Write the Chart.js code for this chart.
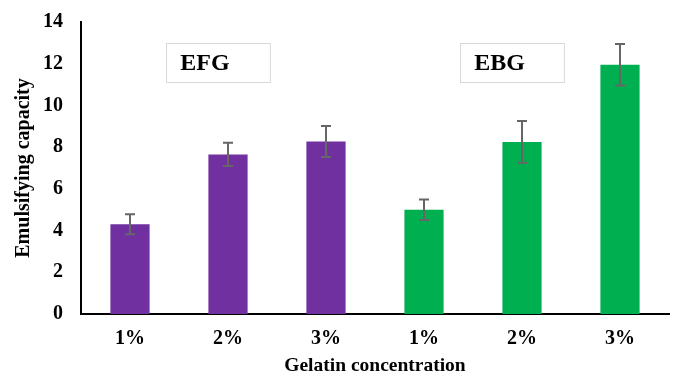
<!DOCTYPE html>
<html>
<head>
<meta charset="utf-8">
<script src="https://cdn.jsdelivr.net/npm/chart.js@4"></script>
<style>
  html, body { margin: 0; padding: 0; background: #fff; }
  #wrap { width: 676px; height: 374px; }
</style>
</head>
<body>
<div id="wrap"><canvas id="chart"></canvas></div>
<script>
const groups = ['EFG', 'EBG'];
const concentrations = ['1%', '2%', '3%'];
const efgValues = [4.3, 7.65, 8.27];
const efgErrors = [0.48, 0.56, 0.74];
const ebgValues = [5.0, 8.25, 11.95];
const ebgErrors = [0.49, 1.0, 0.99];
const yMax = 14;
const yStep = 2;

const groupColors = ['#7030A0', '#00B050'];
const serif = "'Liberation Serif', 'Times New Roman', serif";

const labels = concentrations.concat(concentrations);
const values = efgValues.concat(ebgValues);
const errors = efgErrors.concat(ebgErrors);
const colors = labels.map((_, i) => groupColors[Math.floor(i / concentrations.length)]);

// error bars drawn from the y scale
const errorBars = {
    id: 'errorBars',
    afterDatasetsDraw(chart) {
        const { ctx, scales: { x, y } } = chart;
        ctx.save();
        ctx.strokeStyle = '#666666';
        ctx.lineWidth = 2;
        values.forEach((v, i) => {
            const cx = x.getPixelForValue(i);
            const top = y.getPixelForValue(v + errors[i]);
            const bottom = y.getPixelForValue(v - errors[i]);
            ctx.beginPath();
            ctx.moveTo(cx, top);
            ctx.lineTo(cx, bottom);
            ctx.moveTo(cx - 5, top);
            ctx.lineTo(cx + 5, top);
            ctx.moveTo(cx - 5, bottom);
            ctx.lineTo(cx + 5, bottom);
            ctx.stroke();
        });
        ctx.restore();
    }
};

// group name boxes
const groupBoxes = {
    id: 'groupBoxes',
    afterDraw(chart) {
        const { ctx, scales: { x, y } } = chart;
        const step = x.width / labels.length;
        const top = y.getPixelForValue(12.97);
        const bottom = y.getPixelForValue(11.1);
        ctx.save();
        groups.forEach((name, g) => {
            const start = x.left + g * concentrations.length * step;
            const left = start + 0.87 * step;
            const right = start + 1.93 * step;
            ctx.fillStyle = '#fff';
            ctx.fillRect(left, top, right - left, bottom - top);
            ctx.strokeStyle = '#d9d9d9';
            ctx.lineWidth = 1;
            ctx.strokeRect(Math.round(left) + 0.5, Math.round(top) + 0.5, right - left, bottom - top);
            ctx.fillStyle = '#000';
            ctx.font = 'bold 24px ' + serif;
            ctx.textBaseline = 'middle';
            ctx.textAlign = 'left';
            ctx.fillText(name, left + 14, (top + bottom) / 2 + 1);
        });
        ctx.restore();
    }
};

new Chart(document.getElementById('chart'), {
    type: 'bar',
    data: {
        labels: labels,
        datasets: [{
            data: values,
            backgroundColor: colors,
            borderColor: colors,
            borderWidth: 0,
            barPercentage: 0.4,
            categoryPercentage: 1.0
        }]
    },
    options: {
        responsive: true,
        maintainAspectRatio: false,
        animation: false,
        layout: { padding: { top: 22, right: 7, left: 0, bottom: 0 } },
        plugins: { legend: { display: false }, tooltip: { enabled: false } },
        scales: {
            x: {
                grid: { display: false, drawTicks: false },
                border: { display: true, color: '#000', width: 2 },
                ticks: {
                    color: '#000',
                    padding: 13,
                    font: { family: serif, size: 20, weight: 'bold' }
                },
                title: {
                    display: true,
                    text: 'Gelatin concentration',
                    color: '#000',
                    padding: 0,
                    font: { family: serif, size: 19.5, weight: 'bold', lineHeight: 0.8 }
                },
                afterFit: scale => {
                    scale.height = 60;
                    scale.paddingLeft = 0;
                    scale.paddingRight = 0;
                }
            },
            y: {
                min: 0,
                max: yMax,
                grid: { display: false, drawTicks: false },
                border: { display: true, color: '#000', width: 2 },
                ticks: {
                    stepSize: yStep,
                    color: '#000',
                    padding: 18,
                    font: { family: serif, size: 20, weight: 'bold' }
                },
                title: {
                    display: true,
                    text: 'Emulsifying capacity',
                    color: '#000',
                    padding: { top: 12, bottom: 0 },
                    font: { family: serif, size: 20, weight: 'bold', lineHeight: 1.2 }
                },
                afterFit: scale => {
                    scale.width = 81;
                    scale.paddingTop = 0;
                    scale.paddingBottom = 0;
                }
            }
        }
    },
    plugins: [errorBars, groupBoxes]
});
</script>
</body>
</html>
